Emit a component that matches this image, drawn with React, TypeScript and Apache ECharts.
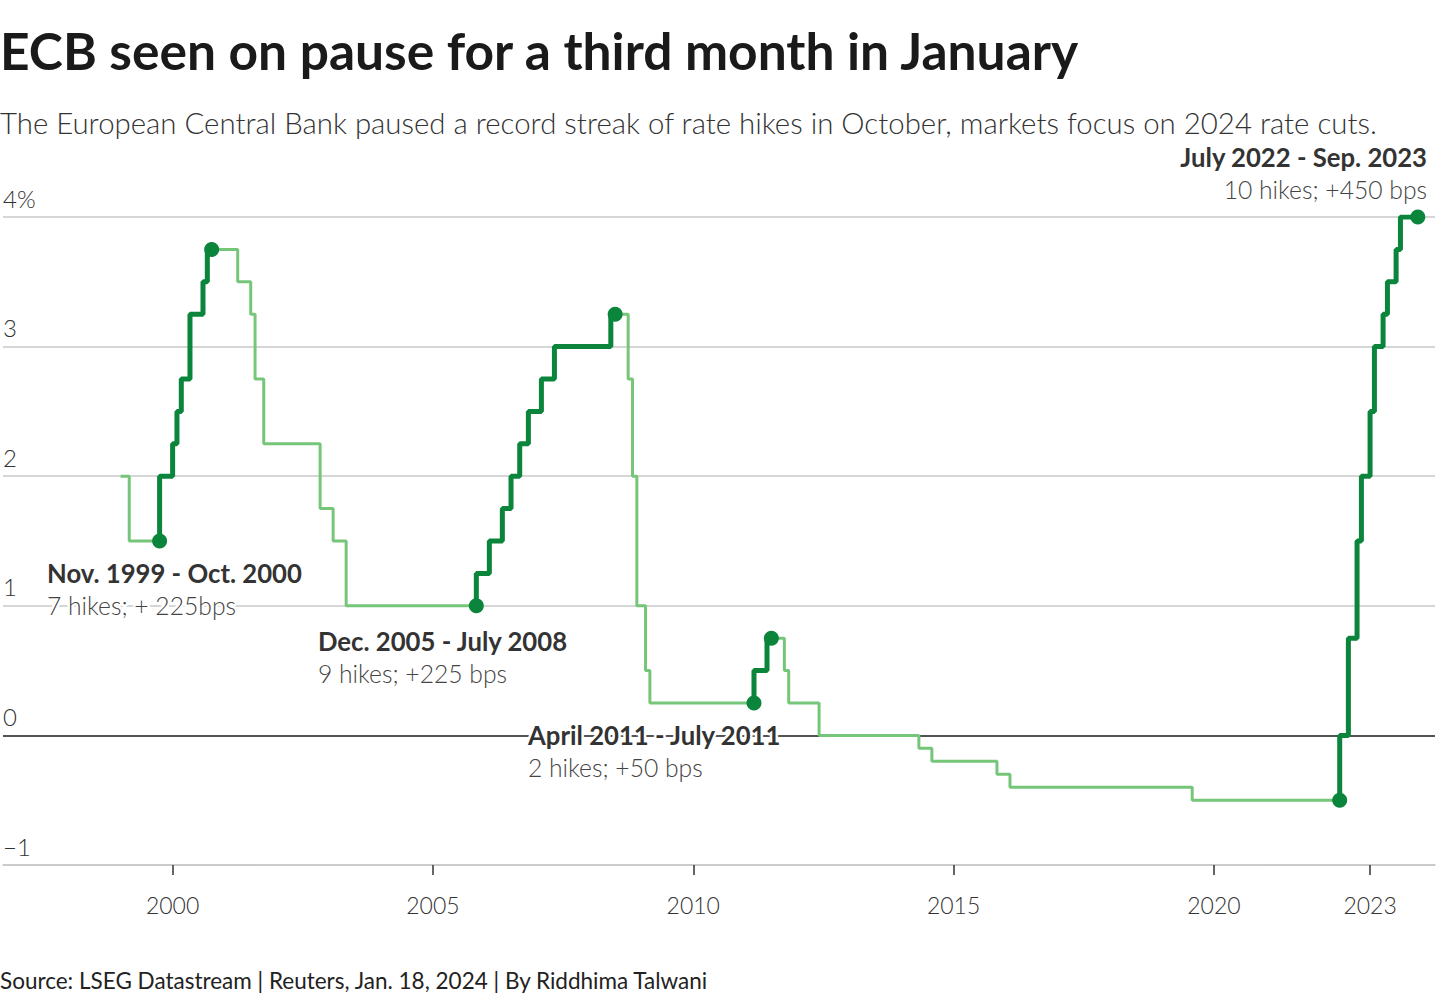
import React, { useEffect, useRef } from "react";
import * as echarts from "echarts";

// ECB deposit facility rate, change points: [month the step appears, new rate %]
const RATE_MONTHS = [
  "1999-01", "1999-03", "1999-10", "2000-01", "2000-02", "2000-03", "2000-05", "2000-08", "2000-09",
  "2001-04", "2001-07", "2001-08", "2001-10", "2002-11", "2003-02", "2003-05",
  "2005-11", "2006-02", "2006-05", "2006-07", "2006-09", "2006-11", "2007-02", "2007-05", "2008-06",
  "2008-10", "2008-11", "2008-12", "2009-02", "2009-03",
  "2011-03", "2011-06", "2011-10", "2011-11", "2012-06",
  "2014-05", "2014-08", "2015-11", "2016-02", "2019-08",
  "2022-06", "2022-08", "2022-10", "2022-11", "2023-01", "2023-02", "2023-04", "2023-05", "2023-07", "2023-08", "2023-12",
];
const RATE_VALUES = [
  2.0, 1.5, 2.0, 2.25, 2.5, 2.75, 3.25, 3.5, 3.75,
  3.5, 3.25, 2.75, 2.25, 1.75, 1.5, 1.0,
  1.25, 1.5, 1.75, 2.0, 2.25, 2.5, 2.75, 3.0, 3.25,
  2.75, 2.0, 1.0, 0.5, 0.25,
  0.5, 0.75, 0.5, 0.25, 0.0,
  -0.1, -0.2, -0.3, -0.4, -0.5,
  0.0, 0.75, 1.5, 2.0, 2.5, 3.0, 3.25, 3.5, 3.75, 4.0, 4.0,
];

// Hiking cycles
const HIKE_STARTS = ["1999-10", "2005-11", "2011-03", "2022-06"];
const HIKE_ENDS = ["2000-10", "2008-07", "2011-07", "2023-12"];
const HIKE_TITLES = ["Nov. 1999 - Oct. 2000", "Dec. 2005 - July 2008", "April 2011 - July 2011", "July 2022 - Sep. 2023"];
const HIKE_NOTES = ["7 hikes; + 225bps", "9 hikes; +225 bps", "2 hikes; +50 bps", "10 hikes; +450 bps"];

const X_TICK_YEARS = [2000, 2005, 2010, 2015, 2020, 2023];
const Y_TICK_LABELS: Record<string, string> = { "-1": "\u22121", "0": "0", "1": "1", "2": "2", "3": "3", "4": "4%" };

const TITLE = "ECB seen on pause for a third month in January";
const SUBTITLE = "The European Central Bank paused a record streak of rate hikes in October, markets focus on 2024 rate cuts.";
const SOURCE = "Source: LSEG Datastream | Reuters, Jan. 18, 2024 | By Riddhima Talwani";

const FONT = "Lato, 'Noto Sans', sans-serif";
const LIGHT = "#76c67a";
const DARK = "#0a853b";

// month string -> decimal year
const yr = (m: string) => {
  const [y, mo] = m.split("-").map(Number);
  return y + (mo - 1) / 12;
};

function buildSegment(start: string, end: string) {
  const s = yr(start);
  const e = yr(end);
  let before = 0;
  let atEnd = 0;
  const pts: number[][] = [];
  RATE_MONTHS.forEach((m, i) => {
    const t = yr(m);
    if (t < s) before = RATE_VALUES[i];
    if (t <= e) atEnd = RATE_VALUES[i];
  });
  pts.push([s, before]);
  RATE_MONTHS.forEach((m, i) => {
    const t = yr(m);
    if (t >= s && t < e) pts.push([t, RATE_VALUES[i]]);
  });
  pts.push([e, atEnd]);
  return pts;
}

export default function App() {
  const ref = useRef<HTMLDivElement>(null);

  useEffect(() => {
    document.body.style.margin = "0";
    if (!ref.current) return;
    const chart = echarts.init(ref.current, null, { renderer: "svg" });

    const lightData = RATE_MONTHS.map((m, i) => [yr(m), RATE_VALUES[i]]);
    const segments = HIKE_STARTS.map((s, i) => buildSegment(s, HIKE_ENDS[i]));
    const dots: number[][] = [];
    segments.forEach((seg) => {
      dots.push(seg[0]);
      dots.push(seg[seg.length - 1]);
    });

    const txt = (
      text: string,
      x: number,
      y: number,
      size: number,
      weight: number | string,
      fill: string,
      align = "left",
      halo = false
    ) => ({
      type: "text",
      x,
      y,
      z: 100,
      style: {
        text,
        fontSize: size,
        fontWeight: weight,
        fontFamily: FONT,
        fill,
        align,
        verticalAlign: "middle",
        ...(halo ? { stroke: "#fff", lineWidth: 5 } : {}),
      },
    });

    const annPos = [
      [47, 573, "left"],
      [318, 641, "left"],
      [528, 735, "left"],
      [1427, 157, "right"],
    ];

    const graphics: any[] = [
      txt(TITLE, 0, 50, 51.5, "bold", "#1a1a1a"),
      txt(SUBTITLE, 0, 122, 29.4, 300, "#333"),
      txt(SOURCE, 0, 980, 22.5, 400, "#222"),
    ];
    HIKE_TITLES.forEach((t, i) => {
      const [x, y, a] = annPos[i] as [number, number, string];
      graphics.push(txt(t, x, y, 25.7, "bold", "#333", a, true));
      graphics.push(txt(HIKE_NOTES[i], x, y + 32, 24.7, 300, "#444", a, true));
    });

    const series: any[] = [
      {
        type: "line",
        step: "end",
        data: lightData,
        showSymbol: false,
        lineStyle: { color: LIGHT, width: 3 },
        z: 2,
      },
      ...segments.map((seg) => ({
        type: "line",
        step: "end",
        data: seg,
        showSymbol: false,
        lineStyle: { color: DARK, width: 5 },
        z: 3,
      })),
      {
        type: "scatter",
        data: dots,
        symbolSize: 15,
        itemStyle: { color: DARK, opacity: 1 },
        z: 4,
      },
    ];

    chart.setOption({
      animation: false,
      grid: { left: 0, right: 5, top: 217, bottom: 135, containLabel: false },
      xAxis: {
        type: "value",
        min: 1996.742,
        max: 2024.247,
        axisLine: { show: true, onZero: false, lineStyle: { color: "#c8c8c8", width: 1.5 } },
        axisTick: { show: true, customValues: X_TICK_YEARS, length: 10, lineStyle: { color: "#333", width: 1.5 } },
        axisLabel: {
          customValues: X_TICK_YEARS,
          formatter: (v: number) => String(Math.round(v)),
          margin: 28,
          fontSize: 23,
          fontWeight: 300,
          fontFamily: FONT,
          color: "#333",
        },
        splitLine: { show: false },
      },
      yAxis: {
        type: "value",
        min: -1,
        max: 4,
        interval: 1,
        axisLine: { show: false },
        axisTick: { show: false },
        axisLabel: {
          inside: true,
          margin: 0,
          verticalAlign: "bottom",
          padding: [0, 0, 7, 0],
          fontSize: 24,
          fontWeight: 300,
          fontFamily: FONT,
          color: "#333",
          formatter: (v: number) => Y_TICK_LABELS[String(v)] ?? String(v),
        },
        splitLine: {
          show: true,
          lineStyle: { color: ["#c8c8c8", "#1a1a1a", "#c8c8c8", "#c8c8c8", "#c8c8c8", "#c8c8c8"], width: 1.5 },
        },
      },
      series,
      graphic: graphics,
    });

    return () => chart.dispose();
  }, []);

  return <div ref={ref} style={{ width: 1440, height: 1000 }} />;
}
